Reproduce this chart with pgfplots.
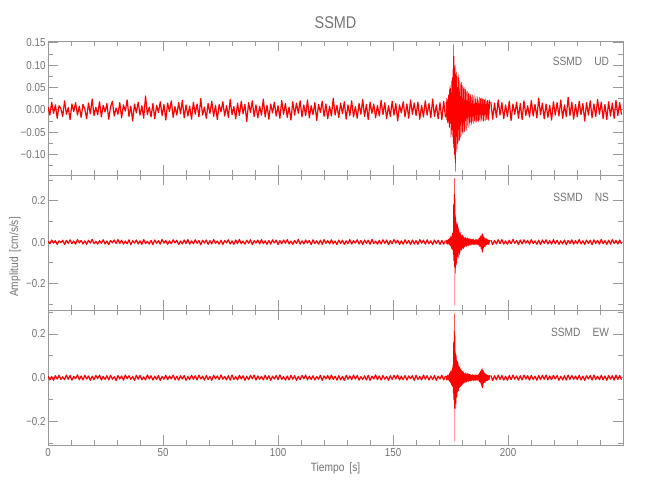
\documentclass[border=0pt]{standalone}
\usepackage{fontspec}
\setmainfont{Liberation Sans}[FakeStretch=0.85]
\usepackage{pgfplots}
\usepackage{pgfplotstable}
\pgfplotsset{compat=1.18}
\definecolor{axgray}{gray}{0.6}
\definecolor{txgray}{gray}{0.45}
\definecolor{sig}{RGB}{255,0,0}

% UD component: noise before event (dt=0.8 s from t=0)
\pgfplotstableread[header=false]{
0.006
-0.012
0.017
-0.008
0.011
-0.019
0.009
0.003
-0.015
0.020
-0.010
0.005
-0.022
0.013
-0.004
0.016
-0.012
0.008
-0.017
0.012
0.002
-0.020
0.015
-0.009
0.024
-0.013
0.006
-0.011
0.018
-0.016
0.010
-0.005
0.014
-0.021
0.007
0.019
-0.014
0.004
-0.010
0.016
-0.018
0.011
-0.003
0.022
-0.015
0.008
-0.025
0.013
-0.007
0.017
-0.012
0.009
-0.019
0.031
-0.011
0.006
-0.016
0.014
-0.020
0.010
-0.006
0.018
-0.013
0.012
-0.023
0.015
-0.004
0.020
-0.017
0.007
-0.012
0.016
-0.009
0.021
-0.018
0.011
-0.014
0.008
-0.021
0.017
-0.010
0.013
-0.016
0.025
-0.012
0.006
-0.019
0.014
-0.008
0.019
-0.015
0.010
-0.022
0.012
-0.005
0.018
-0.014
0.009
-0.017
0.023
-0.011
0.007
-0.020
0.015
-0.013
0.019
-0.009
0.012
-0.026
0.016
-0.006
0.020
-0.015
0.011
-0.018
0.008
-0.012
0.024
-0.016
0.010
-0.021
0.013
-0.007
0.017
-0.014
0.009
-0.019
0.021
-0.010
0.014
-0.017
0.006
-0.023
0.018
-0.012
0.015
-0.008
0.020
-0.016
0.011
-0.013
0.022
-0.018
0.009
-0.011
0.016
-0.024
0.012
-0.006
0.019
-0.015
0.013
-0.020
0.008
-0.014
0.026
-0.012
0.010
-0.017
0.015
-0.009
0.018
-0.021
0.011
-0.013
0.020
-0.016
0.007
-0.019
0.014
-0.010
0.023
-0.015
0.012
-0.022
0.017
-0.008
0.013
-0.018
0.010
-0.014
0.021
-0.011
0.016
-0.020
0.009
-0.015
0.019
-0.012
0.014
-0.025
0.011
-0.007
0.018
-0.016
0.013
-0.019
0.022
-0.010
0.015
-0.013
0.017
-0.021
0.010
-0.016
0.020
-0.012
0.014
-0.018
0.024
-0.015
0.011
-0.020
0.016
-0.022
0.019
-0.017
}\udA
% UD event (dt=0.125 s from t=173)
\pgfplotstableread[header=false]{
0.018
-0.022
0.026
-0.015
0.024
-0.028
0.020
-0.030
0.032
-0.025
0.035
-0.038
0.045
-0.040
0.055
-0.030
0.048
-0.062
0.038
-0.055
0.065
-0.045
0.072
-0.060
0.090
-0.075
0.146
-0.085
0.120
-0.100
0.095
-0.110
0.100
-0.138
0.080
-0.095
0.085
-0.060
0.075
-0.088
0.050
-0.075
0.080
-0.045
0.072
-0.070
0.040
-0.068
0.065
-0.035
0.058
-0.062
0.030
-0.058
0.062
-0.028
0.055
-0.050
0.025
-0.055
0.052
-0.030
0.046
-0.050
0.022
-0.048
0.050
-0.025
0.045
-0.042
0.020
-0.046
0.040
-0.018
0.042
-0.035
0.020
-0.040
0.036
-0.015
0.038
-0.030
0.018
-0.036
0.030
-0.016
0.035
-0.028
0.014
-0.033
0.028
-0.015
0.033
-0.026
0.012
-0.031
0.027
-0.014
0.032
-0.025
0.013
-0.029
0.024
-0.012
0.030
-0.023
0.015
-0.028
0.022
-0.011
0.029
-0.024
0.013
-0.027
0.023
-0.012
0.028
-0.022
0.014
-0.026
0.025
-0.011
0.027
-0.021
0.012
-0.025
0.026
-0.010
0.023
-0.024
0.013
-0.026
0.024
-0.011
0.022
-0.023
0.012
-0.024
0.025
-0.010
0.019
-0.022
0.013
-0.020
0.021
-0.011
0.022
-0.024
0.012
-0.021
0.020
-0.010
0.022
}\udB
% UD after event (dt=0.8 s from t=192.5)
\pgfplotstableread[header=false]{
0.018
-0.021
0.015
-0.017
0.022
-0.012
0.016
-0.020
0.011
-0.015
0.019
-0.024
0.013
-0.010
0.017
-0.019
0.014
-0.022
0.020
-0.013
0.009
-0.016
0.021
-0.014
0.012
-0.018
0.026
-0.011
0.015
-0.020
0.013
-0.017
0.010
-0.023
0.018
-0.012
0.016
-0.014
0.022
-0.019
0.011
-0.015
0.028
-0.013
0.017
-0.021
0.012
-0.016
0.019
-0.011
0.014
-0.025
0.016
-0.012
0.020
-0.018
0.013
-0.015
0.023
-0.010
0.017
-0.020
0.012
-0.022
0.018
-0.014
0.015
-0.019
0.021
-0.013
0.016
-0.011
}\udC
% NS component
\pgfplotstableread[header=false]{
0.004
-0.008
0.010
-0.005
0.007
-0.011
0.006
-0.003
0.009
-0.012
0.008
-0.006
0.011
-0.007
0.005
-0.010
0.012
-0.004
0.008
-0.009
0.006
-0.011
0.009
-0.005
0.013
-0.008
0.004
-0.010
0.007
-0.006
0.011
-0.009
0.005
-0.012
0.008
-0.004
0.010
-0.007
0.012
-0.006
0.009
-0.010
0.005
-0.008
0.011
-0.013
0.007
-0.005
0.010
-0.009
0.006
-0.011
0.012
-0.007
0.004
-0.009
0.008
-0.012
0.010
-0.006
0.007
-0.010
0.013
-0.005
0.008
-0.011
0.006
-0.008
0.011
-0.004
0.009
-0.012
0.005
-0.009
0.010
-0.007
0.012
-0.010
0.006
-0.008
0.011
-0.006
0.008
-0.013
0.009
-0.005
0.010
-0.011
0.007
-0.009
0.012
-0.006
0.005
-0.010
0.009
-0.012
0.008
-0.004
0.011
-0.009
0.006
-0.011
0.010
-0.007
0.013
-0.008
0.005
-0.010
0.009
-0.006
0.011
-0.012
0.007
-0.005
0.010
-0.009
0.012
-0.007
0.006
-0.011
0.008
-0.010
0.011
-0.004
0.009
-0.012
0.007
-0.008
0.010
-0.006
0.012
-0.009
0.005
-0.011
0.008
-0.007
0.013
-0.010
0.006
-0.009
0.010
-0.005
0.008
-0.012
0.011
-0.007
0.006
-0.010
0.009
-0.011
0.012
-0.006
0.007
-0.009
0.011
-0.008
0.005
-0.012
0.010
-0.007
0.009
-0.011
0.006
-0.008
0.012
-0.010
0.007
-0.005
0.011
-0.009
0.008
-0.012
0.010
-0.006
0.009
-0.011
0.013
-0.007
0.005
-0.010
0.008
-0.009
0.011
-0.006
0.010
-0.012
0.007
-0.008
0.012
-0.005
0.009
-0.011
0.006
-0.010
0.011
-0.007
0.008
-0.012
0.010
-0.009
0.007
-0.011
0.012
-0.006
0.009
-0.010
0.011
-0.008
0.006
-0.012
0.010
-0.007
0.009
-0.011
0.008
-0.010
0.007
}\nsA
\pgfplotstableread[header=false]{
0.006
-0.009
0.011
-0.004
0.008
-0.012
0.010
-0.007
0.013
-0.010
0.015
-0.012
0.018
-0.015
0.022
-0.020
0.028
-0.018
0.035
-0.030
0.025
-0.038
0.042
-0.035
0.050
-0.060
0.180
-0.090
0.230
-0.120
0.308
-0.305
0.210
-0.150
0.120
-0.100
0.095
-0.110
0.085
-0.070
0.090
-0.080
0.060
-0.075
0.070
-0.050
0.055
-0.060
0.045
-0.050
0.040
-0.035
0.048
-0.040
0.030
-0.038
0.035
-0.028
0.032
-0.030
0.025
-0.033
0.028
-0.022
0.022
-0.025
0.018
-0.020
0.024
-0.016
0.020
-0.022
0.015
-0.018
0.021
-0.014
0.017
-0.019
0.013
-0.016
0.019
-0.012
0.015
-0.017
0.012
-0.014
0.016
-0.011
0.014
-0.012
0.010
-0.015
0.013
-0.009
0.016
-0.011
0.012
-0.013
0.009
-0.014
0.011
-0.010
0.015
-0.012
0.008
-0.013
0.012
-0.009
0.014
-0.011
0.010
-0.012
0.012
-0.014
0.018
-0.016
0.020
-0.022
0.025
-0.020
0.028
-0.030
0.035
-0.032
0.030
-0.045
0.042
-0.050
0.038
-0.035
0.030
-0.028
0.025
-0.022
0.020
-0.024
0.018
-0.020
0.016
-0.015
0.017
-0.013
0.014
-0.012
0.012
-0.010
0.013
-0.011
0.009
-0.012
0.010
-0.008
0.011
}\nsB
\pgfplotstableread[header=false]{
0.010
-0.012
0.008
-0.009
0.011
-0.007
0.012
-0.010
0.006
-0.011
0.009
-0.008
0.013
-0.006
0.007
-0.012
0.010
-0.009
0.011
-0.005
0.008
-0.010
0.012
-0.007
0.006
-0.011
0.009
-0.012
0.010
-0.006
0.011
-0.009
0.007
-0.010
0.012
-0.008
0.009
-0.011
0.006
-0.009
0.010
-0.012
0.008
-0.007
0.011
-0.010
0.007
-0.008
0.012
-0.009
0.006
-0.011
0.010
-0.007
0.009
-0.012
0.011
-0.006
0.008
-0.010
0.013
-0.008
0.007
-0.011
0.009
-0.010
0.012
-0.006
0.008
-0.009
0.010
-0.008
}\nsC
% EW component
\pgfplotstableread[header=false]{
0.007
-0.010
0.005
-0.012
0.009
-0.006
0.011
-0.008
0.004
-0.009
0.012
-0.007
0.010
-0.011
0.006
-0.005
0.013
-0.009
0.008
-0.010
0.011
-0.006
0.008
-0.012
0.007
-0.009
0.010
-0.004
0.012
-0.011
0.006
-0.008
0.009
-0.010
0.011
-0.007
0.005
-0.013
0.010
-0.006
0.008
-0.011
0.012
-0.005
0.009
-0.008
0.006
-0.012
0.011
-0.007
0.010
-0.009
0.004
-0.010
0.013
-0.006
0.009
-0.011
0.007
-0.008
0.010
-0.012
0.006
-0.007
0.011
-0.009
0.008
-0.005
0.012
-0.010
0.007
-0.011
0.009
-0.006
0.010
-0.012
0.005
-0.008
0.011
-0.007
0.009
-0.010
0.012
-0.006
0.007
-0.011
0.010
-0.008
0.006
-0.012
0.011
-0.005
0.008
-0.009
0.013
-0.007
0.006
-0.010
0.009
-0.011
0.012
-0.008
0.005
-0.010
0.011
-0.006
0.009
-0.012
0.007
-0.009
0.010
-0.005
0.012
-0.011
0.008
-0.007
0.006
-0.010
0.011
-0.008
0.009
-0.012
0.007
-0.006
0.010
-0.009
0.013
-0.008
0.005
-0.011
0.008
-0.010
0.011
-0.007
0.009
-0.012
0.006
-0.009
0.010
-0.005
0.012
-0.010
0.007
-0.008
0.009
-0.011
0.006
-0.007
0.011
-0.012
0.008
-0.006
0.010
-0.009
0.012
-0.008
0.007
-0.011
0.009
-0.010
0.006
-0.012
0.011
-0.007
0.008
-0.009
0.012
-0.006
0.010
-0.011
0.005
-0.008
0.009
-0.010
0.011
-0.012
0.007
-0.006
0.013
-0.009
0.008
-0.011
0.010
-0.007
0.006
-0.012
0.009
-0.008
0.011
-0.006
0.012
-0.010
0.007
-0.009
0.010
-0.011
0.008
-0.005
0.009
-0.012
0.011
-0.008
0.006
-0.010
0.012
-0.007
0.009
-0.011
0.008
-0.009
0.010
-0.012
0.007
-0.006
0.011
-0.010
0.008
}\ewA
\pgfplotstableread[header=false]{
0.008
-0.010
0.007
-0.012
0.011
-0.006
0.012
-0.009
0.014
-0.011
0.010
-0.015
0.020
-0.018
0.025
-0.022
0.030
-0.026
0.038
-0.032
0.030
-0.040
0.045
-0.038
0.060
-0.070
0.160
-0.100
0.210
-0.140
0.292
-0.290
0.190
-0.140
0.110
-0.120
0.100
-0.090
0.080
-0.085
0.075
-0.065
0.070
-0.060
0.055
-0.058
0.050
-0.045
0.048
-0.042
0.038
-0.040
0.042
-0.035
0.033
-0.036
0.030
-0.032
0.028
-0.027
0.030
-0.025
0.024
-0.026
0.020
-0.022
0.018
-0.021
0.023
-0.017
0.019
-0.020
0.016
-0.019
0.020
-0.015
0.018
-0.016
0.014
-0.018
0.017
-0.013
0.016
-0.015
0.013
-0.016
0.015
-0.012
0.013
-0.014
0.011
-0.013
0.014
-0.010
0.015
-0.012
0.011
-0.014
0.010
-0.012
0.013
-0.011
0.014
-0.013
0.009
-0.012
0.013
-0.010
0.012
-0.013
0.011
-0.010
0.013
-0.012
0.017
-0.018
0.021
-0.020
0.026
-0.022
0.030
-0.028
0.033
-0.035
0.038
-0.040
0.045
-0.048
0.036
-0.038
0.032
-0.026
0.027
-0.024
0.022
-0.021
0.019
-0.022
0.017
-0.016
0.015
-0.014
0.013
-0.014
0.011
-0.012
0.012
-0.010
0.010
-0.011
0.009
-0.010
0.012
}\ewB
\pgfplotstableread[header=false]{
0.011
-0.013
0.009
-0.010
0.012
-0.008
0.010
-0.011
0.007
-0.012
0.010
-0.009
0.012
-0.007
0.008
-0.011
0.009
-0.010
0.012
-0.006
0.009
-0.011
0.010
-0.008
0.007
-0.012
0.010
-0.009
0.011
-0.007
0.012
-0.010
0.008
-0.009
0.011
-0.006
0.010
-0.012
0.007
-0.010
0.009
-0.011
0.012
-0.008
0.010
-0.007
0.008
-0.009
0.011
-0.010
0.007
-0.012
0.009
-0.006
0.010
-0.011
0.012
-0.008
0.007
-0.009
0.011
-0.010
0.008
-0.012
0.010
-0.007
0.009
-0.011
0.012
-0.008
0.010
-0.009
}\ewC

\pgfplotsset{
  trace/.style={sig, line width=0.5pt, mark=none, line join=round},
  noise/.style={sig, line width=1.2pt, mark=none, line join=round},
  seis/.style={
    scale only axis, width=575pt,
    xmin=0, xmax=249.95,
    axis line style={axgray, line width=0.6pt},
    every tick/.style={axgray, line width=0.6pt},
    major tick length=10pt, minor tick length=5pt,
    tick align=inside,
    xtick={0,50,100,150,200},
    minor xtick={10,20,30,40,60,70,80,90,110,120,130,140,160,170,180,190,210,220,230,240},
    xticklabels={},
    ticklabel style={font=\fontsize{11.5}{12}\selectfont, text=txgray},
    yticklabel style={xshift=1pt},
  },
  seisamp/.style={
    height=135pt,
    ytick={-0.2,0,0.2}, yticklabels={−0.2,0.0,0.2},
    minor ytick={-0.3,-0.1,0.1,0.3},
  },
}

\begin{document}
\begin{tikzpicture}[x=1pt,y=1pt]
\path[use as bounding box] (0,0) rectangle (650,500);

% UD
\begin{axis}[seis, at={(48pt,325pt)}, anchor=south west, height=134pt,
  ymin=-0.146, ymax=0.154,
  ytick={-0.10,-0.05,0,0.05,0.10,0.15},
  yticklabels={−0.10,−0.05,0.00,0.05,0.10,0.15},
  minor ytick={-0.125,-0.075,-0.025,0.025,0.075,0.125}]
\addplot[noise] table[x expr=\coordindex*0.8, y index=0] {\udA};
\addplot[trace] table[x expr=173+\coordindex*0.125, y index=0] {\udB};
\addplot[noise] table[x expr=192.5+\coordindex*0.8, y index=0] {\udC};
\node[anchor=north east, inner sep=0pt, text=txgray, font=\fontsize{12}{12}\selectfont] at (rel axis cs:0.976,0.882) {SSMD\hspace{12pt}UD};
\end{axis}

% NS
\begin{axis}[seis, seisamp, at={(48pt,190pt)}, anchor=south west,
  ymin=-0.328, ymax=0.324]
\addplot[noise] table[x expr=\coordindex*0.8, y index=0] {\nsA};
\addplot[trace] table[x expr=173+\coordindex*0.125, y index=0] {\nsB};
\addplot[noise] table[x expr=192.5+\coordindex*0.8, y index=0] {\nsC};
\node[anchor=north east, inner sep=0pt, text=txgray, font=\fontsize{12}{12}\selectfont] at (rel axis cs:0.976,0.87) {SSMD\hspace{12pt}NS};
\end{axis}

% EW
\begin{axis}[seis, seisamp, at={(48pt,55pt)}, anchor=south west,
  ymin=-0.307, ymax=0.309,
  xticklabels={0,50,100,150,200}]
\addplot[noise] table[x expr=\coordindex*0.8, y index=0] {\ewA};
\addplot[trace] table[x expr=173+\coordindex*0.125, y index=0] {\ewB};
\addplot[noise] table[x expr=192.5+\coordindex*0.8, y index=0] {\ewC};
\node[anchor=north east, inner sep=0pt, text=txgray, font=\fontsize{12}{12}\selectfont] at (rel axis cs:0.976,0.87) {SSMD\hspace{12pt}EW};
\end{axis}

\node[text=txgray, font=\fontsize{17}{17}\selectfont] at (335.5,477) {SSMD};
\node[text=txgray, font=\fontsize{12}{12}\selectfont] at (335.5,32) {Tiempo\hspace{5pt}[s]};
\node[text=txgray, rotate=90, font=\fontsize{12}{12}\selectfont] at (15,243) {Amplitud\hspace{5pt}[cm/s/s]};
\end{tikzpicture}
\end{document}
